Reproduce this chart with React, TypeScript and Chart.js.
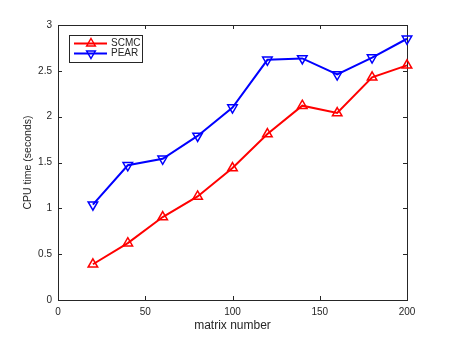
import React, { useEffect, useRef } from "react";
import { Chart, registerables } from "chart.js";

Chart.register(...registerables);

const xValues = [20, 40, 60, 80, 100, 120, 140, 160, 180, 200];
const scmcValues = [0.39, 0.62, 0.905, 1.13, 1.44, 1.81, 2.12, 2.04, 2.43, 2.56];
const pearValues = [1.04, 1.47, 1.54, 1.79, 2.1, 2.62, 2.635, 2.46, 2.645, 2.85];
const seriesLabels = ["SCMC", "PEAR"];
const xTitle = "matrix number";
const yTitle = "CPU time (seconds)";

const AXIS_COLOR = "#262626";
const FONT = "'Liberation Sans', Arial, Helvetica, sans-serif";

const boxPlugin = {
  id: "matlabBox",
  beforeDatasetsDraw(chart: any) {
    const { ctx, chartArea: a, scales } = chart;
    ctx.save();
    ctx.strokeStyle = AXIS_COLOR;
    ctx.lineWidth = 1;
    ctx.strokeRect(Math.round(a.left) + 0.5, Math.round(a.top) + 0.5, Math.round(a.right - a.left), Math.round(a.bottom - a.top));
    const tl = 4;
    ctx.beginPath();
    scales.x.ticks.forEach((t: any) => {
      const px = Math.round(scales.x.getPixelForValue(t.value)) + 0.5;
      ctx.moveTo(px, a.bottom);
      ctx.lineTo(px, a.bottom - tl);
      ctx.moveTo(px, a.top);
      ctx.lineTo(px, a.top + tl);
    });
    scales.y.ticks.forEach((t: any) => {
      const py = Math.round(scales.y.getPixelForValue(t.value)) + 0.5;
      ctx.moveTo(a.left, py);
      ctx.lineTo(a.left + tl, py);
      ctx.moveTo(a.right, py);
      ctx.lineTo(a.right - tl, py);
    });
    ctx.stroke();
    ctx.restore();
  },
  afterDatasetsDraw(chart: any) {
    const { ctx, chartArea: a } = chart;
    const lx = a.left + 11;
    const ly = a.top + 10;
    const w = 73;
    const h = 27;
    ctx.save();
    ctx.fillStyle = "#ffffff";
    ctx.fillRect(lx, ly, w, h);
    ctx.strokeStyle = AXIS_COLOR;
    ctx.lineWidth = 1;
    ctx.strokeRect(lx + 0.5, ly + 0.5, w, h);
    chart.data.datasets.forEach((ds: any, i: number) => {
      const y = ly + 8.5 + i * 10;
      ctx.strokeStyle = ds.borderColor;
      ctx.lineWidth = 2;
      ctx.beginPath();
      ctx.moveTo(lx + 5, y);
      ctx.lineTo(lx + 38, y);
      ctx.stroke();
      ctx.lineWidth = 1.5;
      ctx.beginPath();
      const cx = lx + 22;
      const r = 5;
      const dir = ds.pointRotation === 180 ? -1 : 1;
      ctx.moveTo(cx, y - dir * r);
      ctx.lineTo(cx + r * 0.866, y + dir * r * 0.5);
      ctx.lineTo(cx - r * 0.866, y + dir * r * 0.5);
      ctx.closePath();
      ctx.stroke();
      ctx.fillStyle = AXIS_COLOR;
      ctx.font = `10px ${FONT}`;
      ctx.textAlign = "left";
      ctx.textBaseline = "middle";
      ctx.fillText(ds.label, lx + 42, y);
    });
    ctx.restore();
  },
};

export default function App() {
  const ref = useRef<HTMLCanvasElement>(null);
  useEffect(() => {
    document.body.style.margin = "0";
    const chart = new Chart(ref.current!, {
      type: "line",
      data: {
        datasets: [
          {
            label: seriesLabels[0],
            data: xValues.map((x, i) => ({ x, y: scmcValues[i] })),
            borderColor: "#ff0000",
            backgroundColor: "rgba(0,0,0,0)",
            borderWidth: 2,
            pointStyle: "triangle",
            pointRadius: 5.5,
            pointBorderWidth: 1.5,
            pointBackgroundColor: "rgba(0,0,0,0)",
            pointBorderColor: "#ff0000",
            clip: false,
          },
          {
            label: seriesLabels[1],
            data: xValues.map((x, i) => ({ x, y: pearValues[i] })),
            borderColor: "#0000ff",
            backgroundColor: "rgba(0,0,0,0)",
            borderWidth: 2,
            pointStyle: "triangle",
            pointRotation: 180,
            pointRadius: 5.5,
            pointBorderWidth: 1.5,
            pointBackgroundColor: "rgba(0,0,0,0)",
            pointBorderColor: "#0000ff",
            clip: false,
          } as any,
        ],
      },
      options: {
        animation: false,
        responsive: false,
        events: [],
        layout: { padding: { left: 0, right: 42, top: 25, bottom: 0 } },
        plugins: { legend: { display: false }, tooltip: { enabled: false } },
        scales: {
          x: {
            type: "linear",
            min: 0,
            max: 200,
            grid: { display: false, drawTicks: false },
            border: { display: false },
            ticks: { stepSize: 50, padding: 6, color: AXIS_COLOR, font: { family: FONT, size: 10 }, maxRotation: 0, callback: (v: any) => String(v) },
            title: { display: true, text: xTitle, color: AXIS_COLOR, font: { family: FONT, size: 12 }, padding: { top: 0, bottom: 4 } },
            afterFit: (s: any) => { s.height = 37; },
          },
          y: {
            type: "linear",
            min: 0,
            max: 3,
            grid: { display: false, drawTicks: false },
            border: { display: false },
            ticks: { stepSize: 0.5, padding: 6, color: AXIS_COLOR, font: { family: FONT, size: 10 }, callback: (v: any) => String(Math.round(Number(v) * 10) / 10) },
            title: { display: true, text: yTitle, color: AXIS_COLOR, font: { family: FONT, size: 10.5 }, padding: { top: 22, bottom: 0 } },
            afterFit: (s: any) => { s.width = 58; },
          },
        },
      },
      plugins: [boxPlugin],
    });
    return () => chart.destroy();
  }, []);
  return (
    <div style={{ width: 449, height: 337, background: "#fff" }}>
      <canvas ref={ref} width={449} height={337} />
    </div>
  );
}
